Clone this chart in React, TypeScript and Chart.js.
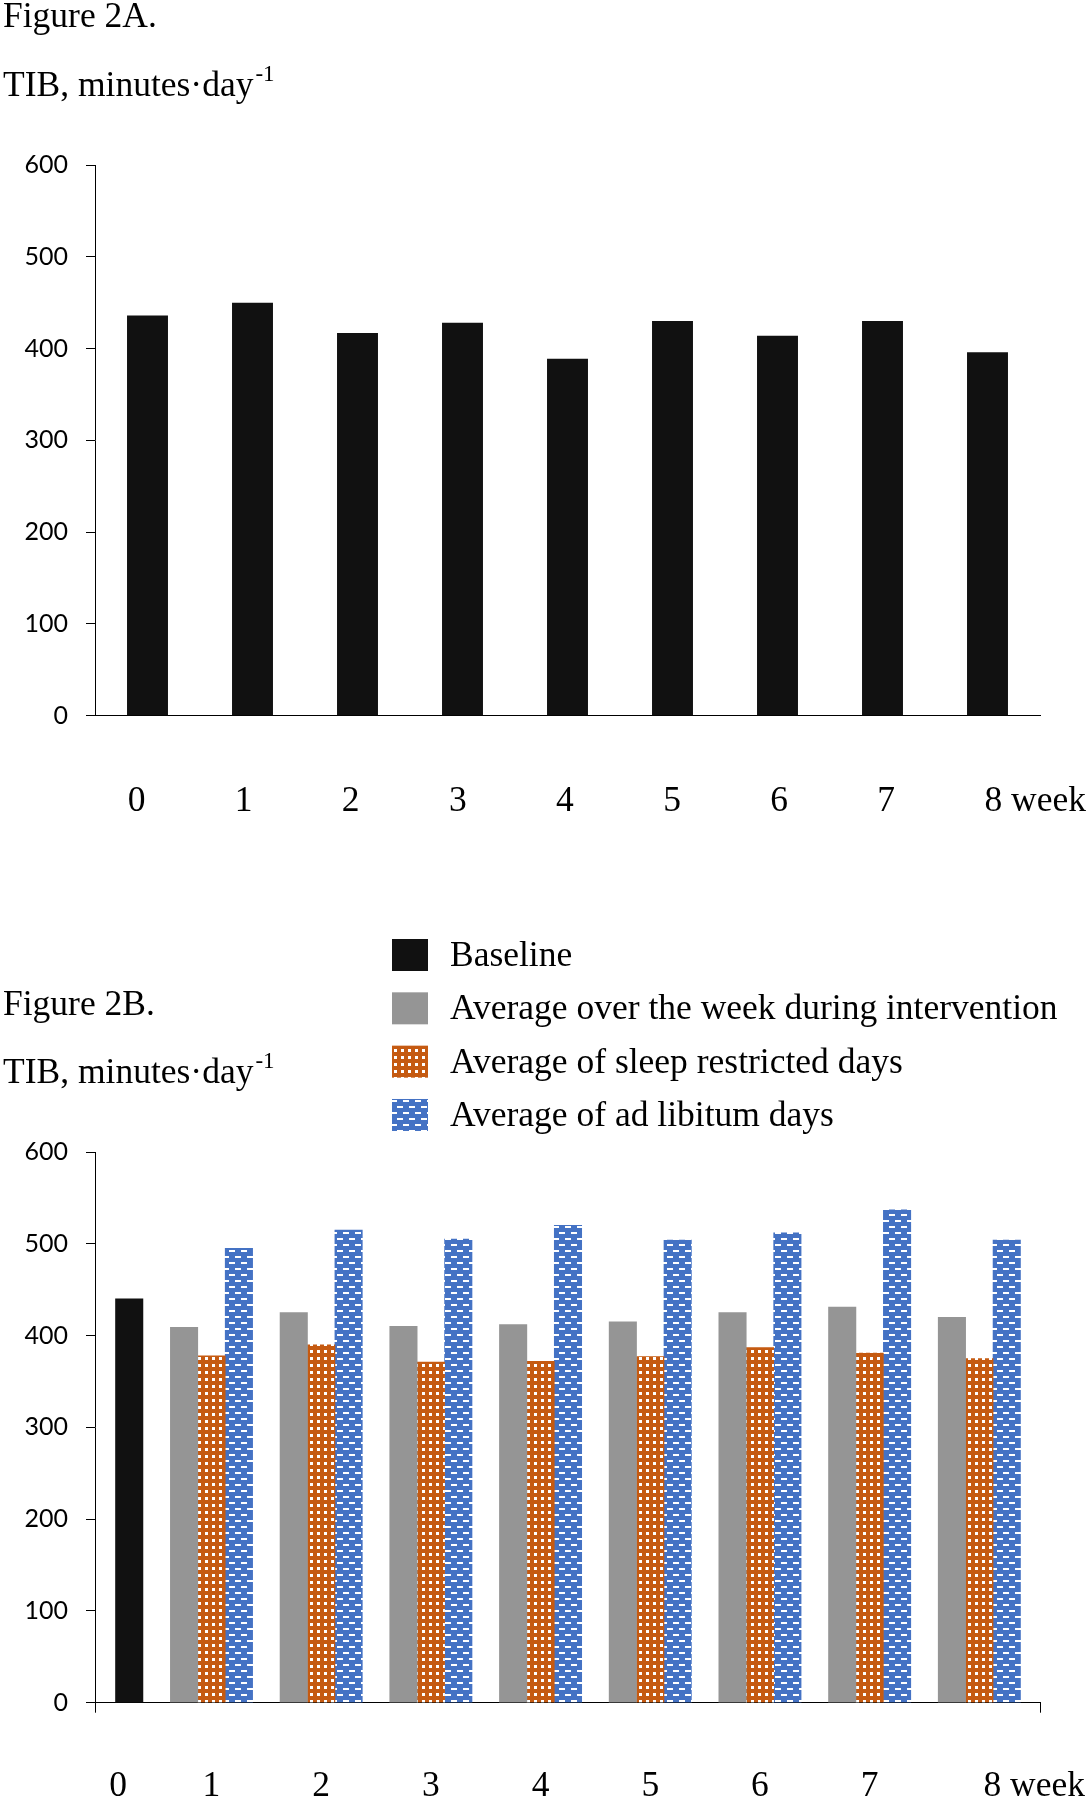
import React, { useEffect, useRef } from 'react';
import { Chart, registerables } from 'chart.js';

Chart.register(...registerables);

// ---------- Data ----------
const weekLabels = ['0', '1', '2', '3', '4', '5', '6', '7', '8'];
const unitLabel = 'week';

// Figure 2A: TIB per week
const tibA = [436, 450, 417, 428, 389, 430, 414, 430, 396];

// Figure 2B
const baselineWeeks = [0];
const baselineB = [440];
const interventionWeeks = [1, 2, 3, 4, 5, 6, 7, 8];
const weekAverageB = [409, 425, 410, 412, 415, 425, 431, 420];
const restrictedB = [378, 390, 371, 372, 377, 387, 381, 375];
const adLibitumB = [495, 515, 505, 520, 504, 512, 537, 504];

const legendLabels = [
  'Baseline',
  'Average over the week during intervention',
  'Average of sleep restricted days',
  'Average of ad libitum days',
];

const yMin = 0;
const yMax = 600;
const yStep = 100;

// ---------- Styles ----------
const SERIF = '"Liberation Serif", "Times New Roman", serif';
const SERIF_SIZE = 35.5;
const BLACK = '#111111';
const GRAY = '#959595';
const ORANGE = '#c55a11';
const BLUE = '#4472c4';

function makeOrangePattern(): CanvasPattern | string {
  const c = document.createElement('canvas');
  c.width = 7;
  c.height = 7;
  const g = c.getContext('2d');
  if (!g) return ORANGE;
  g.fillStyle = ORANGE;
  g.fillRect(0, 0, 7, 7);
  g.fillStyle = '#ffffff';
  g.fillRect(2, 2, 3, 3);
  return g.createPattern(c, 'repeat') || ORANGE;
}

function makeBluePattern(): CanvasPattern | string {
  const c = document.createElement('canvas');
  c.width = 12;
  c.height = 12;
  const g = c.getContext('2d');
  if (!g) return BLUE;
  g.fillStyle = BLUE;
  g.fillRect(0, 0, 12, 12);
  g.fillStyle = '#ffffff';
  g.fillRect(1, 2, 6, 2);
  g.fillRect(7, 8, 5, 2);
  g.fillRect(0, 8, 1, 2);
  return g.createPattern(c, 'repeat') || BLUE;
}

function yAxisOptions() {
  return {
    min: yMin,
    max: yMax,
    ticks: {
      stepSize: yStep,
      color: '#000',
      font: { family: 'Lato', size: 25 },
      padding: 18,
    },
    grid: {
      display: true,
      drawOnChartArea: false,
      drawTicks: true,
      tickLength: 9,
      color: '#000',
      lineWidth: 1,
    },
    border: { display: true, color: '#000', width: 1 },
    afterFit: (s: any) => {
      s.width = 95;
    },
  };
}

function makeWeekLabelPlugin(y: number, xFor: (scale: any, i: number) => number) {
  return {
    id: 'weekLabels',
    afterDraw(chart: any) {
      const xs = chart.scales.x;
      const ctx = chart.ctx;
      ctx.save();
      ctx.font = `${SERIF_SIZE}px ${SERIF}`;
      ctx.fillStyle = '#000';
      ctx.textBaseline = 'alphabetic';
      weekLabels.forEach((lab, i) => {
        const x = xFor(xs, i);
        ctx.textAlign = 'center';
        ctx.fillText(lab, x, y);
        if (i === weekLabels.length - 1) {
          const w = ctx.measureText(lab).width;
          ctx.textAlign = 'left';
          ctx.fillText(' ' + unitLabel, x + w / 2, y);
        }
      });
      ctx.restore();
    },
  };
}

const stackedLegendPlugin = {
  id: 'stackedLegend',
  afterDraw(chart: any) {
    const ctx = chart.ctx;
    ctx.save();
    chart.data.datasets.forEach((ds: any, i: number) => {
      const top = 39 + i * 53.33;
      ctx.fillStyle = ds.backgroundColor;
      ctx.fillRect(392, top, 36, 32);
      ctx.fillStyle = '#000';
      ctx.font = `${SERIF_SIZE}px ${SERIF}`;
      ctx.textAlign = 'left';
      ctx.textBaseline = 'alphabetic';
      ctx.fillText(ds.label, 450, top + 27);
    });
    ctx.restore();
  },
};

const titleStyle = (baseline: number, left: number): React.CSSProperties => ({
  position: 'absolute',
  left,
  top: baseline - 0.8375 * SERIF_SIZE,
  fontFamily: SERIF,
  fontSize: SERIF_SIZE,
  lineHeight: `${SERIF_SIZE}px`,
  whiteSpace: 'nowrap',
  color: '#000',
});

const supStyle: React.CSSProperties = {
  fontSize: 23,
  verticalAlign: '15px',
  lineHeight: 0,
  marginLeft: 2,
};

export default function App() {
  const refA = useRef<HTMLCanvasElement | null>(null);
  const refB = useRef<HTMLCanvasElement | null>(null);

  useEffect(() => {
    if (!refA.current || !refB.current) return;

    // ----- Chart A -----
    const chartA = new Chart(refA.current, {
      type: 'bar',
      data: {
        labels: weekLabels,
        datasets: [
          {
            data: tibA,
            backgroundColor: BLACK,
            borderWidth: 0,
            barPercentage: 0.39,
            categoryPercentage: 1,
          },
        ],
      },
      options: {
        responsive: false,
        maintainAspectRatio: false,
        animation: false,
        events: [],
        layout: { padding: { left: 0, right: 50, top: 165, bottom: 0 } },
        plugins: { legend: { display: false }, tooltip: { enabled: false } },
        scales: {
          x: {
            grid: { display: false },
            border: { display: true, color: '#000', width: 1 },
            ticks: { display: false },
            afterFit: (s: any) => {
              s.height = 860 - 715.7;
            },
          },
          y: yAxisOptions() as any,
        },
      },
      plugins: [
        makeWeekLabelPlugin(811, (scale, i) => {
          const p0 = scale.getPixelForValue(0);
          return p0 - 11 + (scale.getPixelForValue(i) - p0) * 1.02;
        }),
      ],
    });

    // ----- Chart B -----
    const slot = 0.25;
    const toPoints = (weeks: number[], vals: number[], off: number) =>
      weeks.map((w, i) => ({ x: w + off, y: vals[i] }));

    const chartB = new Chart(refB.current, {
      type: 'bar',
      data: {
        datasets: [
          {
            label: legendLabels[0],
            data: toPoints(baselineWeeks, baselineB, slot),
            backgroundColor: BLACK,
          },
          {
            label: legendLabels[1],
            data: toPoints(interventionWeeks, weekAverageB, -slot),
            backgroundColor: GRAY,
          },
          {
            label: legendLabels[2],
            data: toPoints(interventionWeeks, restrictedB, 0),
            backgroundColor: makeOrangePattern() as any,
          },
          {
            label: legendLabels[3],
            data: toPoints(interventionWeeks, adLibitumB, slot),
            backgroundColor: makeBluePattern() as any,
          },
        ],
      },
      options: {
        responsive: false,
        maintainAspectRatio: false,
        animation: false,
        events: [],
        datasets: { bar: { grouped: false, barThickness: 27.4, borderWidth: 0 } as any },
        layout: { padding: { left: 0, right: 50, top: 252, bottom: 0 } },
        plugins: { legend: { display: false }, tooltip: { enabled: false } },
        scales: {
          x: {
            type: 'linear',
            offset: false,
            min: -0.062,
            max: 8.553,
            ticks: { display: false },
            afterBuildTicks: (s: any) => {
              s.ticks = [{ value: s.min }, { value: s.max }];
            },
            grid: {
              display: true,
              offset: false,
              drawOnChartArea: false,
              drawTicks: true,
              tickLength: 10,
              color: '#000',
              lineWidth: 1,
            },
            border: { display: true, color: '#000', width: 1 },
            afterFit: (s: any) => {
              s.height = 900 - 802.7;
            },
          } as any,
          y: yAxisOptions() as any,
        },
      },
      plugins: [
        stackedLegendPlugin,
        makeWeekLabelPlugin(896, (scale, i) => {
          if (i === 0) return scale.getPixelForValue(slot) - 11;
          if (i === weekLabels.length - 1) return scale.getPixelForValue(i) + 13;
          return scale.getPixelForValue(i);
        }),
      ],
    });

    return () => {
      chartA.destroy();
      chartB.destroy();
    };
  }, []);

  return (
    <div
      style={{
        position: 'absolute',
        left: 0,
        top: 0,
        width: 1090,
        height: 1800,
        background: '#ffffff',
        overflow: 'hidden',
      }}
    >
      <canvas
        ref={refA}
        width={1090}
        height={860}
        style={{ position: 'absolute', left: 0, top: 0, width: 1090, height: 860, display: 'block' }}
      />
      <canvas
        ref={refB}
        width={1090}
        height={900}
        style={{ position: 'absolute', left: 0, top: 900, width: 1090, height: 900, display: 'block' }}
      />
      <div style={titleStyle(28, 3)}>Figure 2A.</div>
      <div style={titleStyle(96.5, 3)}>
        TIB, minutes·day<sup style={supStyle}>-1</sup>
      </div>
      <div style={titleStyle(1016, 3)}>Figure 2B.</div>
      <div style={titleStyle(1084, 3)}>
        TIB, minutes·day<sup style={supStyle}>-1</sup>
      </div>
    </div>
  );
}
